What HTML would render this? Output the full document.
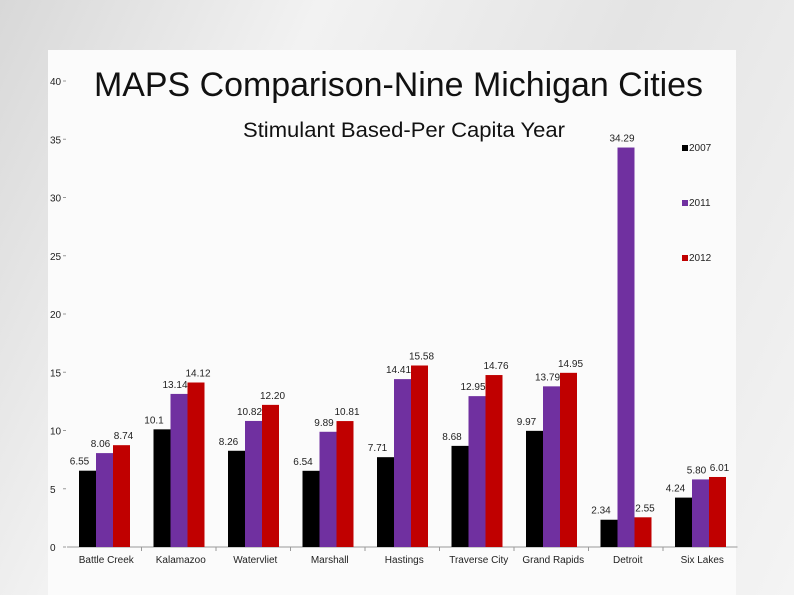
<!DOCTYPE html>
<html><head><meta charset="utf-8"><style>
body{margin:0;width:794px;height:595px;overflow:hidden;font-family:"Liberation Sans",sans-serif;
background:linear-gradient(115deg,#d8d8d8 0%,#f2f2f2 30%,#e4e4e4 60%,#f4f4f4 100%);}
#panel{position:absolute;left:48px;top:50px;width:688px;height:545px;background:#fbfbfb;}
svg{position:absolute;left:0;top:0}
</style></head><body>
<div id="panel"></div>
<svg id="c" width="794" height="595">
<text x="94" y="96" font-size="34" textLength="609" lengthAdjust="spacingAndGlyphs" fill="#111">MAPS Comparison-Nine Michigan Cities</text>
<text x="243" y="137" font-size="21" textLength="322" lengthAdjust="spacingAndGlyphs" fill="#111">Stimulant Based-Per Capita Year</text>
</svg>
<script>
const categories=["Battle Creek","Kalamazoo","Watervliet","Marshall","Hastings","Traverse City","Grand Rapids","Detroit","Six Lakes"];
const s2007=[6.55,10.1,8.26,6.54,7.71,8.68,9.97,2.34,4.24];
const s2011=[8.06,13.14,10.82,9.89,14.41,12.95,13.79,34.29,5.80];
const s2012=[8.74,14.12,12.20,10.81,15.58,14.76,14.95,2.55,6.01];
const l2007=["6.55","10.1","8.26","6.54","7.71","8.68","9.97","2.34","4.24"];
const l2011=["8.06","13.14","10.82","9.89","14.41","12.95","13.79","34.29","5.80"];
const l2012=["8.74","14.12","12.20","10.81","15.58","14.76","14.95","2.55","6.01"];
const yTicks=[0,5,10,15,20,25,30,35,40];
const seriesNames=["2007","2011","2012"];
const colors=["#000000","#7030a0","#c00000"];
const svg=document.getElementById('c');const NS="http://www.w3.org/2000/svg";
const x0=67,bandW=74.5,y0=547,pxPerUnit=11.65,barW=17;
const y=v=>y0-v*pxPerUnit;
const xb=(i,s)=>x0+i*bandW+12+s*barW;
function mk(t,a,txt){const e=document.createElementNS(NS,t);for(const k in a)e.setAttribute(k,a[k]);if(txt!=null)e.textContent=txt;svg.appendChild(e);return e;}
let e=mk('line',{x1:x0,y1:y0,x2:x0+9*bandW,y2:y0,stroke:'#999'});

yTicks.forEach(t=>{
 const l=mk('text',{x:50,y:y(t)+4,'font-size':10,fill:'#222'},t);
 
 const m=mk('line',{x1:x0-4,y1:y(t),x2:x0-1,y2:y(t),stroke:'#999'});
 
});
const all=[s2007,s2011,s2012],labs=[l2007,l2011,l2012];
const offs=[-8,-4,2];
categories.forEach((c,i)=>{
 const t=mk('text',{x:x0+i*bandW+bandW/2+2,y:563,'font-size':10,fill:'#222','text-anchor':'middle'},c);
 
 if(i>0){const m=mk('line',{x1:x0+i*bandW,y1:y0,x2:x0+i*bandW,y2:y0+4,stroke:'#999'});
 }
 all.forEach((s,k)=>{
  const r=mk('rect',{x:xb(i,k),y:y(s[i]),width:barW,height:s[i]*pxPerUnit,fill:colors[k]});
  
  const v=mk('text',{x:xb(i,k)+barW/2+offs[k],y:y(s[i])-6,'font-size':10,fill:'#222','text-anchor':'middle'},labs[k][i]);
  
 });
});
seriesNames.forEach((n,k)=>{
 const ly=150+k*55;
 const r=mk('rect',{x:682,y:ly-5,width:6,height:6,fill:colors[k]});
 
 const t=mk('text',{x:689,y:ly+1,'font-size':10,fill:'#222'},n);
 
});
</script>
</body></html>
